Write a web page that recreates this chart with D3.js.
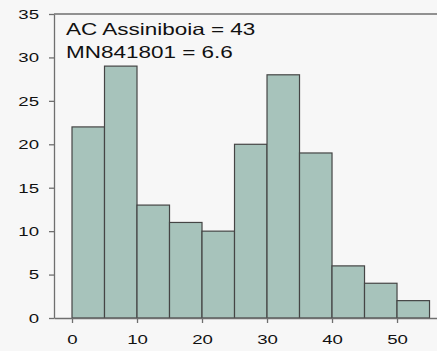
<!DOCTYPE html>
<html>
<head>
<meta charset="utf-8">
<script src="https://cdn.jsdelivr.net/npm/d3@7"></script>
<style>
  body { margin: 0; background: #f7f7f7; }
  svg { display: block; }
</style>
</head>
<body>
<svg id="chart"></svg>
<script>
// histogram bins (lower edge), width 5
var binStarts = [0, 5, 10, 15, 20, 25, 30, 35, 40, 45, 50];
var binWidth = 5;
var counts = [22, 29, 13, 11, 10, 20, 28, 19, 6, 4, 2];
var xTicks = [0, 10, 20, 30, 40, 50];
var yTicks = [0, 5, 10, 15, 20, 25, 30, 35];
var notes = ["AC Assiniboia = 43", "MN841801 = 6.6"];

var width = 437, height = 351;
var sx = 1.38; // text in the picture is stretched sideways

var svg = d3.select("#chart")
    .attr("width", width)
    .attr("height", height);

var x = d3.scaleLinear().domain([-2.77, 56.15]).range([54, 437]);
var y = d3.scaleLinear().domain([0, 35]).range([318, 14]);

// bars
svg.selectAll("rect.bar")
    .data(counts)
    .enter().append("rect")
    .attr("class", "bar")
    .attr("x", function (d, i) { return x(binStarts[i]); })
    .attr("width", function (d, i) { return x(binStarts[i] + binWidth) - x(binStarts[i]); })
    .attr("y", function (d) { return y(d); })
    .attr("height", function (d) { return y(0) - y(d); })
    .attr("fill", "#a7c3bb")
    .attr("stroke", "#454545")
    .attr("stroke-width", 1.2);

// top frame line
svg.append("line")
    .attr("x1", x.range()[0]).attr("x2", x.range()[1])
    .attr("y1", y(35)).attr("y2", y(35))
    .attr("stroke", "#6f6f6f")
    .attr("stroke-width", 1.3);

// y axis
var yAxis = svg.append("g")
    .attr("transform", "translate(" + x.range()[0] + ",0)")
    .call(d3.axisLeft(y).tickValues(yTicks).tickSize(5).tickSizeOuter(0));

yAxis.selectAll("text")
    .attr("x", -15 / sx)
    .attr("transform", "scale(" + sx + ",1)");

// x axis
var xAxis = svg.append("g")
    .attr("transform", "translate(0," + y(0) + ")")
    .call(d3.axisBottom(x).tickValues(xTicks).tickSize(5).tickSizeOuter(0).tickPadding(11));

xAxis.selectAll("text")
    .attr("transform", "scale(" + sx + ",1)");

svg.selectAll(".domain, .tick line")
    .attr("stroke", "#6f6f6f")
    .attr("stroke-width", 1.3);

svg.selectAll(".tick text")
    .attr("fill", "#111")
    .style("font-family", "'Liberation Sans', Arial, sans-serif")
    .style("font-size", "13.5px");

// annotation
svg.selectAll("text.note")
    .data(notes)
    .enter().append("text")
    .attr("class", "note")
    .attr("transform", function (d, i) {
        return "translate(66," + (35 + i * 23) + ") scale(" + sx + ",1)";
    })
    .attr("fill", "#111")
    .style("font-family", "'Liberation Sans', Arial, sans-serif")
    .style("font-size", "16.3px")
    .text(function (d) { return d; });
</script>
</body>
</html>
